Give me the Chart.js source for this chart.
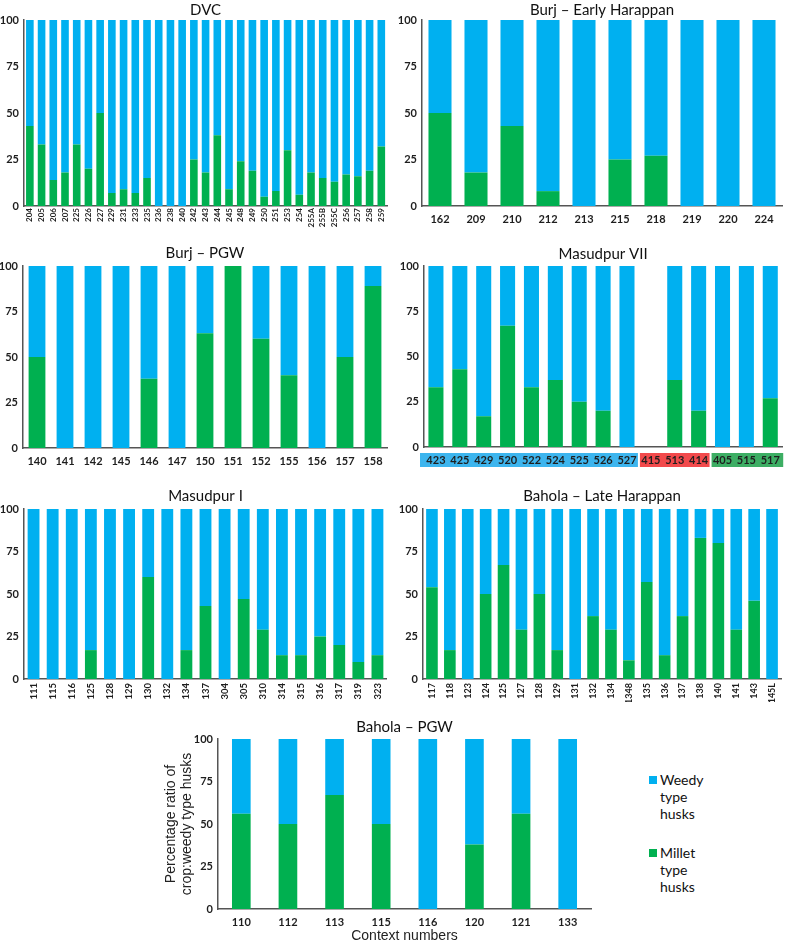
<!DOCTYPE html>
<html>
<head>
<meta charset="utf-8">
<script src="https://cdn.jsdelivr.net/npm/chart.js@4/dist/chart.umd.min.js"></script>
<style>
html,body{margin:0;padding:0;background:#fff;}
body{width:787px;height:943px;position:relative;overflow:hidden;}
canvas{position:absolute;}
.leg{position:absolute;font-family:Lato,"Open Sans",sans-serif;font-size:14px;line-height:17px;color:#111;}
.sw{position:absolute;width:8px;height:8px;}
</style>
</head>
<body>
<canvas id="c1" width="393" height="228" style="left:0px;top:0px"></canvas>
<canvas id="c2" width="394" height="228" style="left:393px;top:0px"></canvas>
<canvas id="c3" width="393" height="242" style="left:0px;top:228px"></canvas>
<canvas id="c4" width="394" height="242" style="left:393px;top:228px"></canvas>
<canvas id="c5" width="393" height="232" style="left:0px;top:470px"></canvas>
<canvas id="c6" width="394" height="232" style="left:393px;top:470px"></canvas>
<canvas id="c7" width="450" height="243" style="left:150px;top:700px"></canvas>

<div class="sw" style="left:649px;top:776px;background:#00B0F0"></div>
<div class="leg" style="left:660px;top:771px">Weedy<br>type<br>husks</div>
<div class="sw" style="left:649px;top:849px;background:#00B050"></div>
<div class="leg" style="left:660px;top:844px">Millet<br>type<br>husks</div>

<script>
// ---------- DATA ----------
const dvcLabels = ['204','205','206','207','225','226','227','229','231','233','235','236','238','240','242','243','244','245','248','249','250','251','253','254','255A','255B','255C','256','257','258','259'];
const dvcMillet = [43,33,14,18,33,20,50,7,9,7,15,0,0,0,25,18,38,9,24,19,5,8,30,6,18,15,13,17,16,19,32];
const dvcWeedy  = [57,67,86,82,67,80,50,93,91,93,85,100,100,100,75,82,62,91,76,81,95,92,70,94,82,85,87,83,84,81,68];

const burjEHLabels = ['162','209','210','212','213','215','218','219','220','224'];
const burjEHMillet = [50,18,43,8,0,25,27,0,0,0];
const burjEHWeedy  = [50,82,57,92,100,75,73,100,100,100];

const burjPGWLabels = ['140','141','142','145','146','147','150','151','152','155','156','157','158'];
const burjPGWMillet = [50,0,0,0,38,0,63,100,60,40,0,50,89];
const burjPGWWeedy  = [50,100,100,100,62,100,37,0,40,60,100,50,11];

const masVIILabels = ['423','425','429','520','522','524','525','526','527','415','513','414','405','515','517'];
const masVIIMillet = [33,43,17,67,33,37,25,20,0,null,37,20,0,0,27];
const masVIIWeedy  = [67,57,83,33,67,63,75,80,100,null,63,80,100,100,73];
const masVIIGroups = [
  {from:0, to:8,  color:'#3DB5EE'},
  {from:9, to:11, color:'#F24A4C'},
  {from:12,to:14, color:'#3DAE64'}
];

const masILabels = ['111','115','116','125','128','129','130','132','134','137','304','305','310','314','315','316','317','319','323'];
const masIMillet = [0,0,0,17,0,0,60,0,17,43,0,47,29,14,14,25,20,10,14];
const masIWeedy  = [100,100,100,83,100,100,40,100,83,57,100,53,71,86,86,75,80,90,86];

const bahLHLabels = ['117','118','123','124','125','127','128','129','131','132','134','1348','135','136','137','138','140','141','143','145L'];
const bahLHMillet = [54,17,0,50,67,29,50,17,0,37,29,11,57,14,37,83,80,29,46,0];
const bahLHWeedy  = [46,83,100,50,33,71,50,83,100,63,71,89,43,86,63,17,20,71,54,100];

const bahPGWLabels = ['110','112','113','115','116','120','121','133'];
const bahPGWMillet = [56,50,67,50,0,38,56,0];
const bahPGWWeedy  = [44,50,33,50,100,62,44,100];

const yTicks = [0,25,50,75,100];
const seriesNames = ['Millet type husks','Weedy type husks'];

// ---------- STYLE ----------
const BLUE = '#00B0F0', GREEN = '#00B050';
const AXIS = '#555555', TICK = '#1e1e1e';
const FONT = 'Lato, "Open Sans", sans-serif';

const groupBoxes = {
  id:'groupBoxes',
  beforeDraw(chart, args, opts){
    if(!opts.groups) return;
    const x = chart.scales.x, ctx = chart.ctx;
    const n = chart.data.labels.length;
    const cw = (x.right - x.left)/n;
    const top = x.top + opts.top, h = opts.height;
    ctx.save();
    opts.groups.forEach((g,i)=>{
      let l = x.getPixelForValue(g.from) - cw/2 + 1;
      let r = x.getPixelForValue(g.to) + cw/2 - 1;
      if(i===0) l -= 5;
      if(i===opts.groups.length-1) r += 2;
      ctx.fillStyle = g.color;
      ctx.fillRect(l, top, r-l, h);
    });
    ctx.restore();
  }
};

function make(id, p){
  const cfg = {
    type:'bar',
    data:{
      labels:p.labels,
      datasets:[
        {label:seriesNames[0], data:p.millet, backgroundColor:GREEN, borderWidth:0, barPercentage:p.bar, categoryPercentage:1},
        {label:seriesNames[1], data:p.weedy, backgroundColor:BLUE, borderWidth:0, barPercentage:p.bar, categoryPercentage:1}
      ]
    },
    options:{
      responsive:false, animation:false, devicePixelRatio:1,
      layout:{padding:p.pad},
      plugins:{
        legend:{display:false}, tooltip:{enabled:false},
        title:{display:true, text:p.title, fullSize:false, color:'#111',
          font:{family:FONT, size:15, weight:'normal', lineHeight:1.2},
          padding:{top:0,bottom:p.tpad}},
        groupBoxes: p.groups ? {groups:p.groups, top:6, height:14} : {}
      },
      scales:{
        x:{stacked:true, offset:true,
          grid:{display:false, drawTicks:false},
          border:{display:true, color:AXIS, width:1.5},
          ticks:{autoSkip:false, color:TICK, padding:p.xpad, minRotation:p.rot, maxRotation:p.rot,
            font:{family:FONT, size:p.xfs, weight:'bold'}},
          title: p.xtitle ? {display:true, text:p.xtitle, color:'#222', padding:0,
            font:{family:'"Liberation Sans", Arial, sans-serif', size:14, lineHeight:1}} : {display:false},
          afterFit:s=>{s.height=p.xh;}
        },
        y:{stacked:true, min:0, max:100,
          grid:{display:false, drawTicks:false},
          border:{display:true, color:AXIS, width:1.5},
          afterBuildTicks:s=>{s.ticks = yTicks.map(v=>({value:v}));},
          ticks:{color:TICK, padding:5, font:{family:FONT, size:11, weight:'bold'}},
          title: p.ytitle ? {display:true, text:p.ytitle, color:'#222', padding:{top:0,bottom:0},
            font:{family:'"Liberation Sans", Arial, sans-serif', size:14, lineHeight:1.15}} : {display:false},
          afterFit:s=>{s.width=p.yw;}
        }
      }
    },
    plugins:[groupBoxes]
  };
  return new Chart(document.getElementById(id), cfg);
}

make('c1',{labels:dvcLabels, millet:dvcMillet, weedy:dvcWeedy, title:'DVC',
  pad:{top:1,left:0,right:3,bottom:0}, tpad:1, yw:24, xh:22, xpad:2, xfs:8, rot:90, bar:0.65});
make('c2',{labels:burjEHLabels, millet:burjEHMillet, weedy:burjEHWeedy, title:'Burj – Early Harappan',
  pad:{top:1,left:0,right:5,bottom:0}, tpad:1, yw:29, xh:22, xpad:7, xfs:11, rot:0, bar:0.64});
make('c3',{labels:burjPGWLabels, millet:burjPGWMillet, weedy:burjPGWWeedy, title:'Burj – PGW',
  pad:{top:16,left:0,right:6,bottom:0}, tpad:4, yw:23, xh:22, xpad:7, xfs:11, rot:0, bar:0.6});
make('c4',{labels:masVIILabels, millet:masVIIMillet, weedy:masVIIWeedy, title:'Masudpur VII',
  pad:{top:17,left:0,right:4,bottom:0}, tpad:3, yw:31, xh:23, xpad:7, xfs:11, rot:0, bar:0.63, groups:masVIIGroups});
make('c5',{labels:masILabels, millet:masIMillet, weedy:masIWeedy, title:'Masudpur I',
  pad:{top:17,left:0,right:3,bottom:0}, tpad:4, yw:24, xh:23, xpad:4, xfs:9.5, rot:90, bar:0.62});
make('c6',{labels:bahLHLabels, millet:bahLHMillet, weedy:bahLHWeedy, title:'Bahola – Late Harappan',
  pad:{top:17,left:0,right:4,bottom:0}, tpad:4, yw:30, xh:23, xpad:4, xfs:9, rot:90, bar:0.65});
make('c7',{labels:bahPGWLabels, millet:bahPGWMillet, weedy:bahPGWWeedy, title:'Bahola – PGW',
  pad:{top:18,left:13,right:9,bottom:0}, tpad:3, yw:55, xh:34, xpad:7, xfs:11, rot:0, bar:0.4,
  xtitle:'Context numbers', ytitle:['Percentage ratio of','crop:weedy type husks']});
</script>
</body>
</html>
